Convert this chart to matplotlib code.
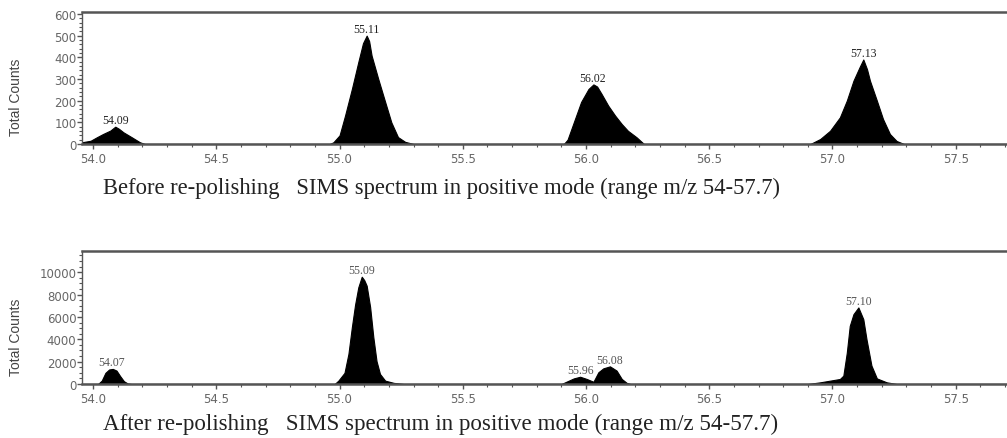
import matplotlib
matplotlib.use("Agg")
import matplotlib.pyplot as plt
from matplotlib.ticker import MultipleLocator

# spectrum before re-polishing (m/z, total counts)
mz_before = [53.955, 53.99, 54.015, 54.04, 54.07, 54.09, 54.105, 54.123, 54.157, 54.19, 54.21,
             54.96, 54.975, 55.0, 55.022, 55.05, 55.076, 55.095, 55.11, 55.12, 55.13, 55.157,
             55.185, 55.21, 55.237, 55.266, 55.30,
             55.91, 55.925, 55.955, 55.98, 56.01, 56.03, 56.045, 56.063, 56.09, 56.118, 56.145,
             56.17, 56.205, 56.235,
             56.91, 56.95, 56.99, 57.03, 57.058, 57.085, 57.11, 57.125, 57.14, 57.152, 57.18,
             57.205, 57.233, 57.26, 57.29, 57.71]
counts_before = [8, 15, 31, 46, 62, 80, 70, 54, 31, 8, 0,
                 0, 8, 40, 130, 254, 378, 465, 500, 475, 408, 300,
                 194, 100, 32, 10, 0,
                 0, 20, 115, 194, 254, 275, 265, 231, 177, 131, 92,
                 61, 31, 0,
                 0, 23, 61, 123, 200, 292, 355, 390, 345, 292, 200,
                 115, 46, 14, 0, 0]

# spectrum after re-polishing
mz_after = [53.955, 54.02, 54.035, 54.05, 54.065, 54.08, 54.095, 54.11, 54.125, 54.14, 54.155,
            54.98, 54.995, 55.02, 55.036, 55.05, 55.063, 55.076, 55.09, 55.10, 55.11, 55.124,
            55.137, 55.15, 55.164, 55.185, 55.22, 55.26,
            55.90, 55.93, 55.95, 55.976, 56.003, 56.03, 56.05, 56.07, 56.097, 56.124, 56.145,
            56.165, 56.18,
            56.90, 56.95, 56.99, 57.03, 57.044, 57.058, 57.07, 57.085, 57.105, 57.125, 57.138,
            57.158, 57.18, 57.22, 57.26, 57.71]
counts_after = [0, 0, 300, 1000, 1300, 1350, 1200, 700, 250, 50, 0,
                0, 300, 1000, 2700, 5100, 7100, 8650, 9600, 9300, 8800, 6900,
                4200, 2050, 900, 300, 100, 0,
                0, 300, 500, 650, 450, 200, 1050, 1400, 1580, 1200, 450,
                100, 0,
                0, 150, 300, 450, 750, 2800, 5200, 6250, 6850, 5800, 4000,
                1650, 500, 150, 0, 0]

# peak labels (text, m/z, counts at apex)
peaks_before = [("54.09", 54.09, 80), ("55.11", 55.11, 500),
                ("56.02", 56.025, 275), ("57.13", 57.125, 390)]
peaks_after = [("54.07", 54.075, 1350), ("55.09", 55.09, 9600), ("55.96", 55.976, 650),
               ("56.08", 56.097, 1580), ("57.10", 57.105, 6850)]

captions = ["Before re-polishing   SIMS spectrum in positive mode (range m/z 54-57.7)",
            "After re-polishing   SIMS spectrum in positive mode (range m/z 54-57.7)"]

W, H = 1007, 439
fig = plt.figure(figsize=(W / 100, H / 100), dpi=100)

spine_col = "#555555"
tick_col = "#666666"


def panel(rect, mz, counts, peaks, ymax, ymajor, yminor, lab_col):
    ax = fig.add_axes(rect)
    ax.fill_between(mz, counts, 0, color="black", lw=0.8, edgecolor="black")
    ax.set_xlim(53.955, 57.708)
    ax.set_ylim(0, ymax)
    ax.xaxis.set_major_locator(MultipleLocator(0.5))
    ax.xaxis.set_minor_locator(MultipleLocator(0.1))
    ax.yaxis.set_major_locator(MultipleLocator(ymajor))
    ax.yaxis.set_minor_locator(MultipleLocator(yminor))
    ax.xaxis.set_major_formatter(plt.FormatStrFormatter("%.1f"))
    for s in ["top", "bottom"]:
        ax.spines[s].set_linewidth(1.8)
        ax.spines[s].set_color(spine_col)
    ax.spines["left"].set_linewidth(1.0)
    ax.spines["left"].set_color(spine_col)
    ax.spines["right"].set_visible(False)
    ax.tick_params(which="both", direction="out", color=spine_col, labelcolor=tick_col,
                   labelsize=8.5)
    ax.tick_params(which="major", length=3.5, width=1.0)
    ax.tick_params(which="minor", length=2, width=0.8)
    ax.tick_params(axis="y", pad=0.5)
    ax.tick_params(axis="x", pad=2)
    for txt, x, y in peaks:
        ax.annotate(txt, (x, y), xytext=(0, 0.5), textcoords="offset points",
                    ha="center", va="bottom", fontsize=8.5, family="Liberation Serif",
                    color=lab_col)
    return ax


ax1 = panel([82 / W, 1 - 145 / H, 1 - 82 / W, 132 / H], mz_before, counts_before,
            peaks_before, 609, 100, 20, "#222222")
ax2 = panel([82 / W, 1 - 385 / H, 1 - 82 / W, 133 / H], mz_after, counts_after,
            peaks_after, 11900, 2000, 500, "#555555")

fig.text(16 / W, 1 - 97 / H, "Total Counts", rotation=90, ha="center", va="center",
         fontsize=10, family="Liberation Sans", color="#444444")
fig.text(16 / W, 1 - 337 / H, "Total Counts", rotation=90, ha="center", va="center",
         fontsize=10, family="Liberation Sans", color="#444444")

fig.text(103 / W, 1 - 188 / H, captions[0], ha="left", va="center",
         fontsize=16.3, family="Liberation Serif", color="#222222")
fig.text(103 / W, 1 - 424 / H, captions[1], ha="left", va="center",
         fontsize=16.6, family="Liberation Serif", color="#222222")

fig.savefig("out.png", dpi=100)
